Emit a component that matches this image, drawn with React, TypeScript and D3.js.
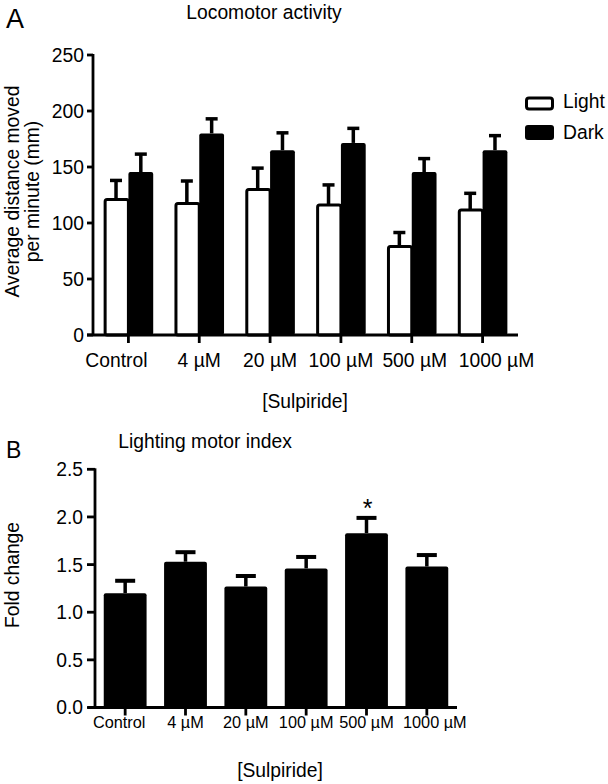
import React from "react";
import * as d3 from "d3";

const categories = ["Control", "4 µM", "20 µM", "100 µM", "500 µM", "1000 µM"];
const lightMean = [121, 117.5, 130, 116, 79, 111.5];
const lightErr = [17, 20, 19, 18, 12.5, 15];
const darkMean = [145.5, 180, 165, 171.5, 145.5, 165];
const darkErr = [16, 13, 15.5, 13, 12, 13];
const yTicksA = [0, 50, 100, 150, 200, 250];

const foldMean = [1.2, 1.53, 1.27, 1.46, 1.83, 1.48];
const foldErr = [0.13, 0.1, 0.11, 0.12, 0.16, 0.12];
const foldSig = ["", "", "", "", "*", ""];
const yTicksB = [0, 0.5, 1.0, 1.5, 2.0, 2.5];

const FONT = "'Liberation Sans', Arial, Helvetica, sans-serif";
const FS = 19.3;

export default function App() {
  // Panel A
  const xA = d3.scaleBand<string>().domain(categories).range([93, 518]).padding(0);
  const yA = d3.scaleLinear().domain([0, 250]).range([335, 55]);
  const bwA = xA.bandwidth() * 0.35;

  // Panel B
  const xB = d3.scaleBand<string>().domain(categories).range([95, 457]).padding(0);
  const yB = d3.scaleLinear().domain([0, 2.5]).range([707.5, 469.3]);
  const bwB = xB.bandwidth() * 0.71;

  const axisW = 2.8;
  const errW = 3.5;
  const last = categories.length - 1;
  // end labels sit slightly outward in the original layout
  const labelShiftA = (i: number) => (i === 0 ? -12 : i === last ? 14 : i === last - 1 ? 3 : 0);
  const labelShiftB = (i: number) => (i === 0 ? -6 : i === last ? 8 : 0);

  return (
    <svg
      width={608}
      height={784}
      style={{ position: "absolute", left: 0, top: 0, background: "#fff" }}
      fontFamily={FONT}
    >
      <rect x={0} y={0} width={608} height={784} fill="#fff" />
      {/* ---------- Panel A ---------- */}
      <text x={6} y={28} fontSize={27}>A</text>
      <text x={264} y={19} fontSize={FS} textAnchor="middle">Locomotor activity</text>

      {categories.map((c, i) => {
        const cx = (xA(c) as number) + xA.bandwidth() / 2;
        const lTop = yA(lightMean[i]);
        const dTop = yA(darkMean[i]);
        const lCap = yA(lightMean[i] + lightErr[i]);
        const dCap = yA(darkMean[i] + darkErr[i]);
        const lc = cx - bwA / 2;
        const dc = cx + bwA / 2;
        return (
          <g key={c}>
            <line x1={lc} x2={lc} y1={lTop} y2={lCap} stroke="#000" strokeWidth={errW} />
            <line x1={lc - 6} x2={lc + 6} y1={lCap} y2={lCap} stroke="#000" strokeWidth={errW} />
            <rect
              x={cx - bwA + 1.5}
              y={lTop}
              width={bwA - 1.5}
              height={yA(0) - lTop}
              fill="#fff"
              stroke="#000"
              strokeWidth={3}
              rx={2}
            />
            <line x1={dc} x2={dc} y1={dTop} y2={dCap} stroke="#000" strokeWidth={errW} />
            <line x1={dc - 6} x2={dc + 6} y1={dCap} y2={dCap} stroke="#000" strokeWidth={errW} />
            <rect x={cx} y={dTop} width={bwA} height={yA(0) - dTop} fill="#000" rx={2} />
          </g>
        );
      })}

      <line x1={93} x2={93} y1={yA(250) - 1} y2={yA(0)} stroke="#000" strokeWidth={axisW} />
      <line x1={87} x2={518} y1={yA(0)} y2={yA(0)} stroke="#000" strokeWidth={axisW} />
      {yTicksA.map((t) => (
        <g key={t}>
          <line x1={87} x2={93} y1={yA(t)} y2={yA(t)} stroke="#000" strokeWidth={axisW} />
          <text x={84} y={yA(t)} dy="0.36em" fontSize={FS} textAnchor="end">{t}</text>
        </g>
      ))}
      {categories.map((c, i) => {
        const cx = (xA(c) as number) + xA.bandwidth() / 2;
        return (
          <g key={c}>
            <line x1={cx} x2={cx} y1={yA(0)} y2={yA(0) + 8} stroke="#000" strokeWidth={axisW} />
            <text x={cx + labelShiftA(i)} y={367} fontSize={FS} textAnchor="middle">{c}</text>
          </g>
        );
      })}
      <text x={305} y={408} fontSize={FS} textAnchor="middle">[Sulpiride]</text>
      <text transform="translate(19,191.5) rotate(-90)" fontSize={FS} textAnchor="middle">
        Average distance moved
      </text>
      <text transform="translate(39,191.5) rotate(-90)" fontSize={FS} textAnchor="middle">
        per minute (mm)
      </text>

      {/* legend */}
      <rect x={526.5} y={98} width={26} height={11} fill="#fff" stroke="#000" strokeWidth={3} rx={2.5} />
      <text x={563} y={107.5} fontSize={FS}>Light</text>
      <rect x={525} y={125} width={29} height={15} fill="#000" rx={3} />
      <text x={563} y={138.5} fontSize={FS}>Dark</text>

      {/* ---------- Panel B ---------- */}
      <text x={6} y={458} fontSize={23}>B</text>
      <text x={205} y={448} fontSize={FS} textAnchor="middle">Lighting motor index</text>

      {categories.map((c, i) => {
        const cx = (xB(c) as number) + xB.bandwidth() / 2;
        const top = yB(foldMean[i]);
        const cap = yB(foldMean[i] + foldErr[i]);
        return (
          <g key={c}>
            <line x1={cx} x2={cx} y1={top} y2={cap} stroke="#000" strokeWidth={errW} />
            <line x1={cx - 10} x2={cx + 10} y1={cap} y2={cap} stroke="#000" strokeWidth={4} />
            <rect x={cx - bwB / 2} y={top} width={bwB} height={yB(0) - top} fill="#000" rx={2} />
            {foldSig[i] && (
              <text x={cx + 1} y={cap - 1} fontSize={25} textAnchor="middle">{foldSig[i]}</text>
            )}
          </g>
        );
      })}

      <line x1={95} x2={95} y1={yB(2.5) - 1} y2={yB(0)} stroke="#000" strokeWidth={axisW} />
      <line x1={88} x2={457} y1={yB(0)} y2={yB(0)} stroke="#000" strokeWidth={axisW} />
      {yTicksB.map((t) => (
        <g key={t}>
          <line x1={87} x2={95} y1={yB(t)} y2={yB(t)} stroke="#000" strokeWidth={axisW} />
          <text x={83} y={yB(t)} dy="0.36em" fontSize={FS} textAnchor="end">{d3.format(".1f")(t)}</text>
        </g>
      ))}
      {categories.map((c, i) => {
        const cx = (xB(c) as number) + xB.bandwidth() / 2;
        return (
          <g key={c}>
            <line x1={cx} x2={cx} y1={yB(0)} y2={yB(0) + 8} stroke="#000" strokeWidth={axisW} />
            <text x={cx + labelShiftB(i)} y={728} fontSize={16.3} textAnchor="middle">{c}</text>
          </g>
        );
      })}
      <text x={280} y={777} fontSize={FS} textAnchor="middle">[Sulpiride]</text>
      <text transform="translate(19,575) rotate(-90)" fontSize={FS} textAnchor="middle">
        Fold change
      </text>
    </svg>
  );
}
